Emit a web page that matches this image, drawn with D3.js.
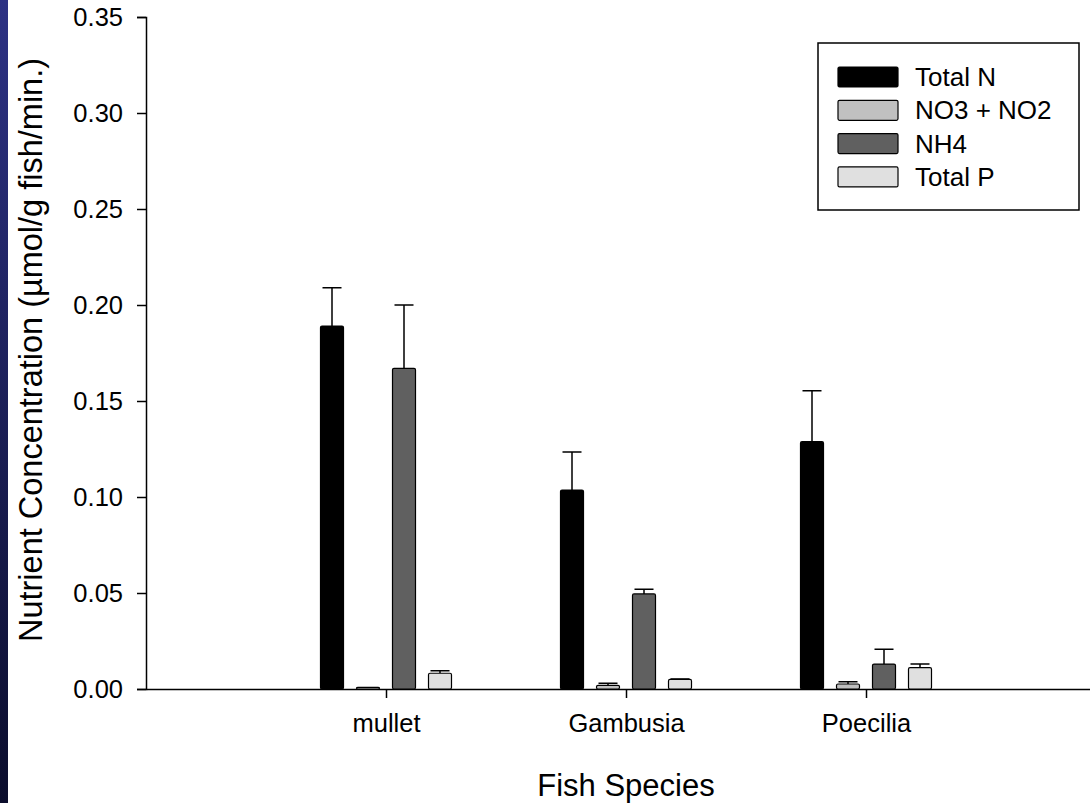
<!DOCTYPE html>
<html>
<head>
<meta charset="utf-8">
<script src="https://cdn.jsdelivr.net/npm/d3@7"></script>
<style>
  body { margin: 0; background: #ffffff; }
  text { font-family: Arial, "Liberation Sans", sans-serif; fill: #000; }
</style>
</head>
<body>
<div id="chart"></div>
<script>
// Data
const species = ["mullet", "Gambusia", "Poecilia"];
const seriesNames = ["Total N", "NO3 + NO2", "NH4", "Total P"];
const seriesColors = ["#000000", "#c0c0c0", "#606060", "#e0e0e0"];
const totalN = [0.189, 0.1036, 0.1288];
const totalNErr = [0.020, 0.0198, 0.0266];
const no3no2 = [0.0008, 0.0019, 0.0026];
const no3no2Err = [0.0, 0.0011, 0.0012];
const nh4 = [0.167, 0.0495, 0.013];
const nh4Err = [0.033, 0.0024, 0.0077];
const totalP = [0.0082, 0.0050, 0.0111];
const totalPErr = [0.0013, 0.0002, 0.0019];
const yTicks = [0, 0.05, 0.10, 0.15, 0.20, 0.25, 0.30, 0.35];

const values = [totalN, no3no2, nh4, totalP];
const errors = [totalNErr, no3no2Err, nh4Err, totalPErr];

const W = 1090, H = 803;
const margin = {top: 17, left: 146, bottom: 114};
const plotBottom = H - margin.bottom;

const svg = d3.select("#chart").append("svg")
  .attr("width", W).attr("height", H);

// Slide background strip on the left edge
const grad = svg.append("defs").append("linearGradient")
  .attr("id", "strip").attr("x1", 0).attr("y1", 0).attr("x2", 0).attr("y2", 1);
grad.append("stop").attr("offset", "0%").attr("stop-color", "#2d3284");
grad.append("stop").attr("offset", "100%").attr("stop-color", "#0b0d2c");
svg.append("rect").attr("x", 0).attr("y", 0).attr("width", 8).attr("height", H)
  .attr("fill", "url(#strip)");

// Scales
const x = d3.scaleLinear().domain([0, 4]).range([margin.left, margin.left + 960]);
const y = d3.scaleLinear().domain([0, 0.35]).range([plotBottom, margin.top]);

const barW = 23;
const offsets = d3.scaleLinear().domain([0, 3]).range([-54, 54]);

// Y axis
const yAxis = svg.append("g")
  .attr("transform", "translate(" + margin.left + ",0)")
  .call(d3.axisLeft(y).tickValues(yTicks).tickFormat(d3.format(".2f")).tickSize(9).tickPadding(14));
yAxis.select(".domain").attr("stroke", "#000").attr("stroke-width", 1.5);
yAxis.selectAll(".tick line").attr("stroke", "#000").attr("stroke-width", 1.5);
yAxis.selectAll("text").style("font-size", "25.5px").attr("font-family", null);

// X axis
const xAxis = svg.append("g")
  .attr("transform", "translate(0," + plotBottom + ")")
  .call(d3.axisBottom(x).tickValues([1, 2, 3]).tickFormat(function(d) { return species[d - 1]; })
    .tickSize(9).tickSizeOuter(0).tickPadding(16));
xAxis.select(".domain").attr("stroke", "#000").attr("stroke-width", 1.5);
xAxis.selectAll(".tick line").attr("stroke", "#000").attr("stroke-width", 1.5);
xAxis.selectAll("text").style("font-size", "25.5px").attr("font-family", null);

// Bars + error bars
const bars = [];
values.forEach(function(vals, s) {
  vals.forEach(function(v, i) {
    bars.push({s: s, i: i, v: v, e: errors[s][i]});
  });
});

const g = svg.append("g");

g.selectAll(".err")
  .data(bars.filter(function(d) { return d.e > 0; }))
  .enter().append("path")
  .attr("class", "err")
  .attr("fill", "none").attr("stroke", "#000").attr("stroke-width", 1.5)
  .attr("d", function(d) {
    const cx = x(d.i + 1) + offsets(d.s);
    return "M" + cx + "," + y(d.v) + "V" + y(d.v + d.e) +
      "M" + (cx - 9.5) + "," + y(d.v + d.e) + "H" + (cx + 9.5);
  });

g.selectAll(".bar")
  .data(bars)
  .enter().append("rect")
  .attr("class", "bar")
  .attr("x", function(d) { return x(d.i + 1) + offsets(d.s) - barW / 2; })
  .attr("y", function(d) { return y(d.v); })
  .attr("width", barW)
  .attr("height", function(d) { return y(0) - y(d.v); })
  .attr("rx", 1.5)
  .attr("fill", function(d) { return seriesColors[d.s]; })
  .attr("stroke", "#000").attr("stroke-width", 1.2);

// Axis titles
svg.append("text")
  .attr("x", x(2)).attr("y", 796)
  .style("text-anchor", "middle").style("font-size", "31px")
  .text("Fish Species");

svg.append("text")
  .attr("transform", "translate(42,350) rotate(-90)")
  .style("text-anchor", "middle").style("font-size", "32.5px")
  .text("Nutrient Concentration (µmol/g fish/min.)");

// Legend
const legend = svg.append("g");
legend.append("rect")
  .attr("x", 818).attr("y", 43).attr("width", 261).attr("height", 167)
  .attr("fill", "#fff").attr("stroke", "#000").attr("stroke-width", 1.5);
const rows = legend.selectAll(".row").data(seriesNames).enter().append("g")
  .attr("transform", function(d, i) { return "translate(838," + (77 + i * 33.3) + ")"; });
rows.append("rect")
  .attr("x", 0).attr("y", -10).attr("width", 60).attr("height", 20).attr("rx", 1.5)
  .attr("fill", function(d, i) { return seriesColors[i]; })
  .attr("stroke", "#000").attr("stroke-width", 1.2);
rows.append("text")
  .attr("x", 77).attr("y", 0).attr("dy", "0.35em")
  .style("font-size", "26px")
  .text(function(d) { return d; });
</script>
</body>
</html>
